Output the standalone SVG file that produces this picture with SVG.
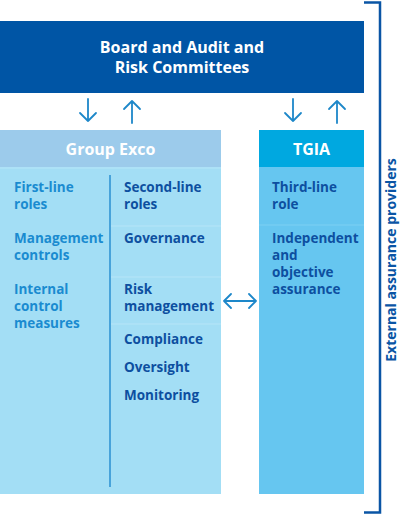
<svg xmlns="http://www.w3.org/2000/svg" width="400" height="515" viewBox="0 0 400 515">
<style>
text{font-family:"Open Sans","Noto Sans","Liberation Sans",sans-serif;font-weight:bold}
.t{fill:#ffffff;font-size:16px;text-anchor:middle}
.l{fill:#1a8bd0;font-size:13.5px}
.r{fill:#0d4fa0;font-size:13.5px}
.sep{stroke:#b6e5f8;stroke-width:1}
.arr{fill:none;stroke:#1d87c9;stroke-width:1.8;stroke-linecap:round;stroke-linejoin:round}
</style>
<rect width="400" height="515" fill="#ffffff"/>
<g id="board">
<rect x="0" y="21" width="364" height="72" fill="#0055a5"/>
<text class="t" x="182" y="53">Board and Audit and</text>
<text class="t" x="182" y="73">Risk Committees</text>
</g>
<g id="group-exco">
<rect x="0" y="130" width="221" height="37" fill="#9ccbeb"/>
<text class="t" x="110.5" y="155">Group Exco</text>
<rect x="0" y="167" width="221" height="327" fill="#a3def5"/>
<line class="sep" x1="0" y1="168" x2="221" y2="168"/>
<line class="sep" x1="111" y1="226" x2="221" y2="226"/>
<line class="sep" x1="111" y1="277" x2="221" y2="277"/>
<line class="sep" x1="111" y1="324" x2="221" y2="324"/>
<line x1="110" y1="175" x2="110" y2="487" stroke="#2a8fd0" stroke-width="1.5"/>
<text class="l" x="14" y="192">First-line</text>
<text class="l" x="14" y="209">roles</text>
<text class="l" x="14" y="243">Management</text>
<text class="l" x="14" y="260">controls</text>
<text class="l" x="14" y="294">Internal</text>
<text class="l" x="14" y="311">control</text>
<text class="l" x="14" y="328">measures</text>
<text class="r" x="124" y="192">Second-line</text>
<text class="r" x="124" y="209">roles</text>
<text class="r" x="124" y="243">Governance</text>
<text class="r" x="124" y="294">Risk</text>
<text class="r" x="124" y="311">management</text>
<text class="r" x="124" y="344">Compliance</text>
<text class="r" x="124" y="372">Oversight</text>
<text class="r" x="124" y="400">Monitoring</text>
</g>
<g id="tgia">
<rect x="259" y="130" width="105" height="37" fill="#00a8e0"/>
<text class="t" x="311.5" y="155">TGIA</text>
<rect x="259" y="167" width="105" height="327" fill="#66c6f0"/>
<line x1="259" y1="225" x2="364" y2="225" stroke="#7dd0f3" stroke-width="1"/>
<text class="r" x="272" y="192">Third-line</text>
<text class="r" x="272" y="209">role</text>
<text class="r" x="272" y="243">Independent</text>
<text class="r" x="272" y="260">and</text>
<text class="r" x="272" y="277">objective</text>
<text class="r" x="272" y="294">assurance</text>
</g>
<g id="external">
<path d="M364 2.5 H380 V512.5 H364" fill="none" stroke="#0a55a5" stroke-width="2.5"/>
<text transform="translate(396 260) rotate(-90)" fill="#0a55a5" font-size="14" text-anchor="middle">External assurance providers</text>
</g>
<g id="connectors">
<path class="arr" d="M88 99 V121 M80 113 L88 121 L96 113"/>
<path class="arr" d="M132 123 V101 M124 109 L132 101 L140 109"/>
<path class="arr" d="M293 99 V121 M285 113 L293 121 L301 113"/>
<path class="arr" d="M337 123 V101 M329 109 L337 101 L345 109"/>
<path class="arr" d="M224 301 H256 M231 294 L224 301 L231 308 M249 294 L256 301 L249 308"/>
</g>
</svg>
